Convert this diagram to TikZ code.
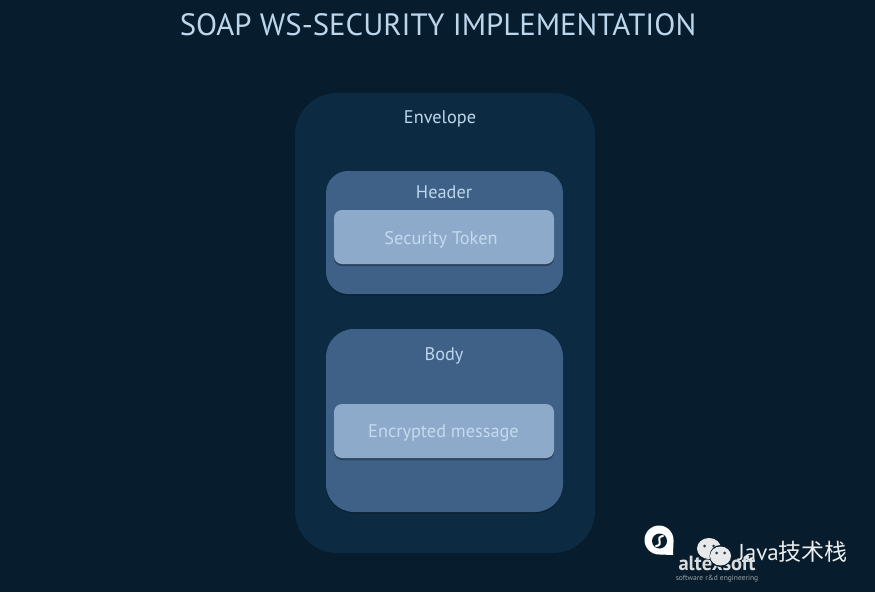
\documentclass[tikz,border=0pt]{standalone}
\usepackage{fontspec}
\setmainfont{PT Sans}
\newfontfamily\cjkfont{Noto Sans CJK SC}
\usepackage{xcolor}
\usetikzlibrary{positioning, shadows}
\definecolor{slidebg}{HTML}{071C2C}
\definecolor{envfill}{HTML}{0C2A41}
\definecolor{partfill}{HTML}{3F6087}
\definecolor{itemfill}{HTML}{8DAACB}
\definecolor{labeltext}{HTML}{BCD6EC}
\definecolor{itemtext}{HTML}{C4DAEF}
\tikzset{
  partbox/.style={fill=partfill, rounded corners=#1, drop shadow={shadow xshift=0pt, shadow yshift=-1.5pt, fill=black, opacity=0.2}},
  itembox/.style={fill=itemfill, rounded corners=8pt, drop shadow={shadow xshift=0pt, shadow yshift=-2pt, fill=black, opacity=0.3}},
  lbl/.style={text=labeltext, font=\fontsize{18.3}{22}\selectfont, inner sep=0pt},
  itemlbl/.style={text=itemtext, font=\fontsize{18.3}{22}\selectfont, inner sep=0pt}
}
\begin{document}
\begin{tikzpicture}[x=1pt, y=-1pt]
  \fill[slidebg] (0,0) rectangle (875,592);
  \useasboundingbox (0,0) rectangle (875,592);
  \node[text=labeltext, font=\fontsize{30.8}{34}\selectfont, inner sep=0pt] (title) at (438,25) {SOAP WS-SECURITY IMPLEMENTATION};
  % Envelope with its two parts
  \fill[envfill, rounded corners=42pt] (295,93) rectangle (595,553);
  \node[lbl] (envelope) at (440,119) {Envelope};
  \path[partbox=22pt] (326,171) rectangle (563,294);
  \node[lbl] (header) at (444,192) {Header};
  \path[itembox] (334,210) rectangle (554,264);
  \node[itemlbl] (token) at (441,240) {Security Token};
  \path[partbox=28pt] (326,329) rectangle (563,512);
  \node[lbl] (body) at (444,356) {Body};
  \path[itembox] (334,404) rectangle (554,458);
  \node[itemlbl] (message) at (443.5,433) {Encrypted message};
  % Logo and watermark, bottom right
  \fill[white] (659,540) circle (14.5);
  \fill[white] (660,554.5) -- (673,555) -- (673.5,540) -- cycle;
  \fill[slidebg] (659.5,541) circle (7.5);
  \draw[white, line width=2pt, line cap=round] (663,536) .. controls (654,537) and (665,545) .. (656,546);
  \node[white!85!slidebg, font=\bfseries\fontsize{20.5}{21}\selectfont, inner sep=0pt] (brand) at (717,563) {altexsoft};
  \node[white!60!slidebg, font=\fontsize{7.5}{9}\selectfont, inner sep=0pt] (tagline) at (717,578.5) {software r\&d engineering};
  \fill[white!90!slidebg] (709,548.5) ellipse (12 and 10.5);
  \fill[slidebg] (720.5,556) circle (11);
  \fill[white!90!slidebg] (720.5,556) ellipse (10.5 and 9.5);
  \foreach \x/\y in {704.5/546,713.5/546,716.5/553,724.5/553}
    \fill[slidebg!70!gray] (\x,\y) circle (1.5);
  \node[white!92!slidebg, font=\fontsize{23}{26}\selectfont, inner sep=0pt, anchor=west] (wm) at (738,552) {Java{\cjkfont 技术栈}};
\end{tikzpicture}
\end{document}
